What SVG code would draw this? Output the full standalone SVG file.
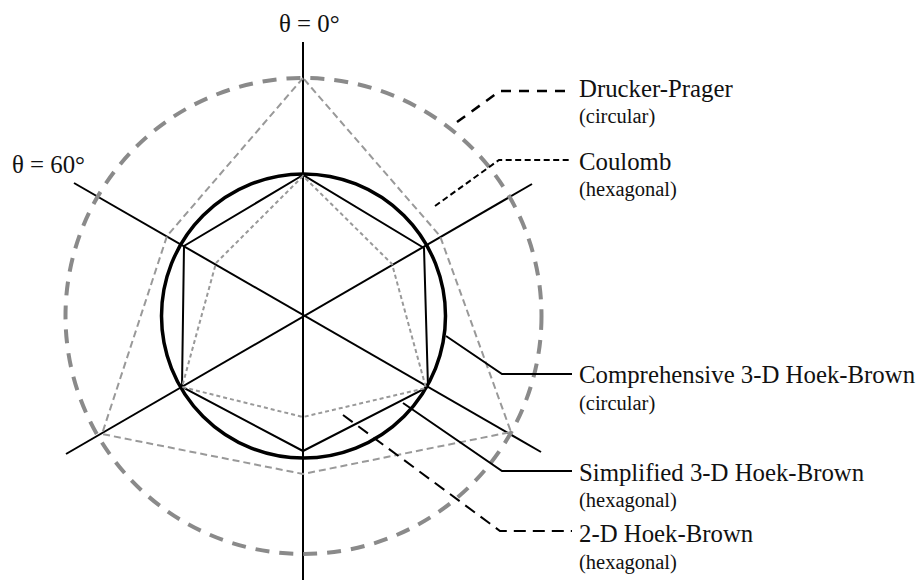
<svg xmlns="http://www.w3.org/2000/svg" width="921" height="580" viewBox="0 0 921 580">
<style>
.axis{stroke:#000;stroke-width:2;fill:none}
.circ{stroke:#000;stroke-width:3.5;fill:none}
.hex{stroke:#000;stroke-width:2;fill:none;stroke-linejoin:miter}
.dp{stroke:#8a8a8a;stroke-width:4;fill:none;stroke-dasharray:14 10}
.outhex{stroke:#999;stroke-width:2;fill:none;stroke-dasharray:7 4}
.inhex{stroke:#999;stroke-width:2;fill:none;stroke-dasharray:4 3}
.lead{stroke:#000;stroke-width:2;fill:none}
.leadA{stroke:#000;stroke-width:2.5;fill:none;stroke-dasharray:10 8}
.leadB{stroke:#000;stroke-width:2;fill:none;stroke-dasharray:6 3.5}
.leadC{stroke:#000;stroke-width:2;fill:none;stroke-dasharray:12 7}
.t{font-family:"Liberation Serif","Times New Roman",serif;font-size:24.8px;fill:#111}
.s{font-family:"Liberation Serif","Times New Roman",serif;font-size:20.5px;fill:#111}
</style>
<g id="axes">
<line class="axis" x1="303" y1="42" x2="303" y2="580"/>
<line class="axis" x1="74" y1="183" x2="541" y2="452"/>
<line class="axis" x1="66" y1="454" x2="532" y2="184"/>
<text class="t" x="279" y="32">θ = 0°</text>
<text class="t" x="12" y="173">θ = 60°</text>
</g>
<g id="drucker-prager">
<circle class="dp" cx="303.5" cy="316" r="238"/>
<text class="t" x="579" y="97">Drucker-Prager</text>
<text class="s" x="579" y="123">(circular)</text>
</g>
<g id="coulomb">
<polygon class="outhex" points="303,78 167,236 102,434 303,474 511,432 440,236"/>
<text class="t" x="579" y="170">Coulomb</text>
<text class="s" x="579" y="196">(hexagonal)</text>
</g>
<g id="comprehensive-hb">
<circle class="circ" cx="303.5" cy="316" r="142"/>
<text class="t" x="579" y="383">Comprehensive 3-D Hoek-Brown</text>
<text class="s" x="579" y="410">(circular)</text>
</g>
<g id="simplified-hb">
<polygon class="hex" points="303,175 184,246 182,387 303,451 428,387 424,248"/>
<text class="t" x="579" y="481">Simplified 3-D Hoek-Brown</text>
<text class="s" x="579" y="507">(hexagonal)</text>
</g>
<g id="hb-2d">
<polygon class="inhex" points="303,176 216,263 182,387 303,417 426,388 392,264"/>
<text class="t" x="579" y="542">2-D Hoek-Brown</text>
<text class="s" x="579" y="569">(hexagonal)</text>
</g>
<g id="connectors">
<polyline class="leadA" points="457,122 500,91 570,91"/>
<polyline class="leadB" points="435,206 499,160 570,160"/>
<polyline class="lead" points="446,336 502,374 572,374"/>
<polyline class="lead" points="403,403 502,471 572,471"/>
<polyline class="leadC" points="343,415 500,531 572,531"/>
</g>
</svg>
